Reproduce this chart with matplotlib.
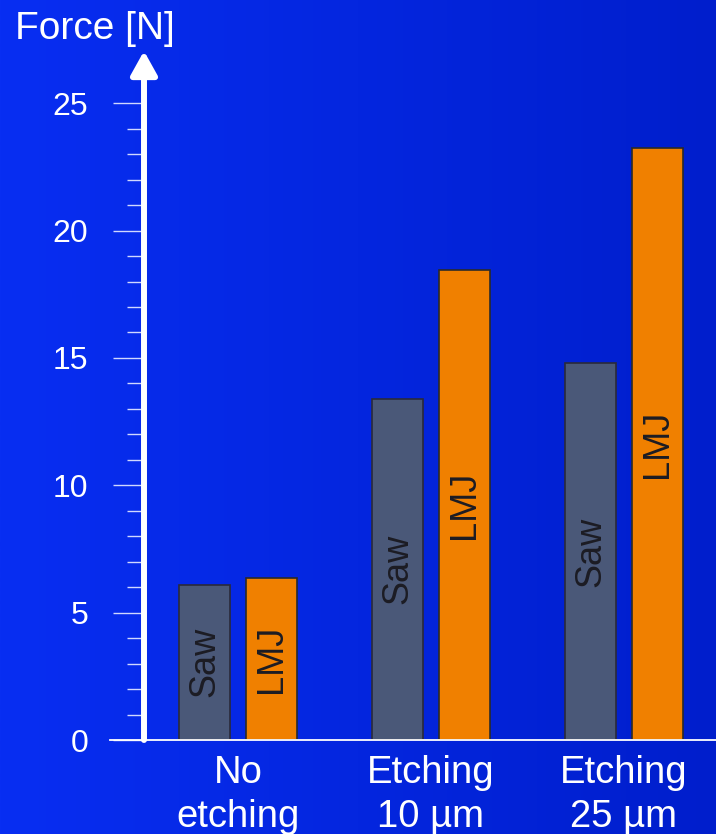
import numpy as np
import matplotlib.pyplot as plt

plt.rcParams["font.family"] = ["Liberation Sans", "DejaVu Sans"]

# Pull-off force per surface treatment
groups = ["No\netching", "Etching\n10 \u00b5m", "Etching\n25 \u00b5m"]
series = ["Saw", "LMJ"]
saw_force = [6.1, 13.4, 14.8]
lmj_force = [6.35, 18.45, 23.25]

SAW_COLOR = "#4a5878"
LMJ_COLOR = "#f08000"
TICK_COLOR = "#d0d8ff"


def draw_background(fig):
    """Horizontal blue gradient behind everything."""
    bg = fig.add_axes([0, 0, 1, 1], zorder=-10)
    left = np.array([8, 46, 242]) / 255
    right = np.array([0, 30, 204]) / 255
    t = np.linspace(0, 1, 256)[None, :, None]
    grad = left + (right - left) * t
    bg.imshow(grad, aspect="auto", extent=[0, 1, 0, 1])
    bg.set_axis_off()


def main() -> None:
    W, H = 716, 834
    fig = plt.figure(figsize=(W / 100, H / 100), dpi=100)
    draw_background(fig)

    x0, x1 = 144, 716   # pixel extent of the plot area
    y0, y1 = 740, 51    # zero line and arrow tip
    ax = fig.add_axes([x0 / W, (H - y0) / H, (x1 - x0) / W, (y0 - y1) / H])
    ax.patch.set_alpha(0)

    x = np.arange(len(groups))
    width = 0.264
    offset = 0.172
    bars_saw = ax.bar(x - offset, saw_force, width, color=SAW_COLOR,
                      edgecolor="#2a2a3a", linewidth=1.2, zorder=3)
    bars_lmj = ax.bar(x + offset, lmj_force, width, color=LMJ_COLOR,
                      edgecolor="#2a2a2a", linewidth=1.2, zorder=3)

    # Series name written vertically inside each bar
    for bars, name in ((bars_saw, series[0]), (bars_lmj, series[1])):
        for b in bars:
            h = b.get_height()
            ax.text(b.get_x() + b.get_width() / 2, h / 2, name,
                    rotation=90, ha="center", va="center",
                    fontsize=26, color="#1c1c24", zorder=4)

    ax.set_xlim(-0.487, 2.477)
    ax.set_ylim(0, 27.05)

    for side in ("top", "right", "bottom", "left"):
        ax.spines[side].set_visible(False)

    # White y axis with an arrow head
    ax.annotate("", xy=(0, 1), xytext=(0, 0), xycoords="axes fraction",
                arrowprops=dict(arrowstyle="-|>,head_length=0.72,head_width=0.4",
                                color="white", lw=4.3, shrinkA=0, shrinkB=0,
                                mutation_scale=20))
    # Zero line reaching past the axis to the left
    ax.axhline(0, xmin=-34 / (x1 - x0), xmax=1, color="white", lw=1.3,
               clip_on=False, zorder=5)

    ax.set_yticks(np.arange(0, 26, 5))
    ax.set_yticks(np.arange(0, 26, 1), minor=True)
    ax.tick_params(axis="y", which="major", length=22.3, width=1.0,
                   color=TICK_COLOR, labelcolor="white", labelsize=23, pad=18)
    ax.tick_params(axis="y", which="minor", length=12.2, width=1.0,
                   color=TICK_COLOR)

    ax.set_xticks(x)
    ax.set_xticklabels(groups, linespacing=1.27)
    ax.tick_params(axis="x", length=0, labelcolor="white", labelsize=27.5, pad=11)

    fig.text(15 / W, 1 - 39 / H, "Force [N]", color="white", fontsize=28,
             ha="left", va="baseline")

    fig.savefig("out.png", dpi=100)


if __name__ == "__main__":
    main()
